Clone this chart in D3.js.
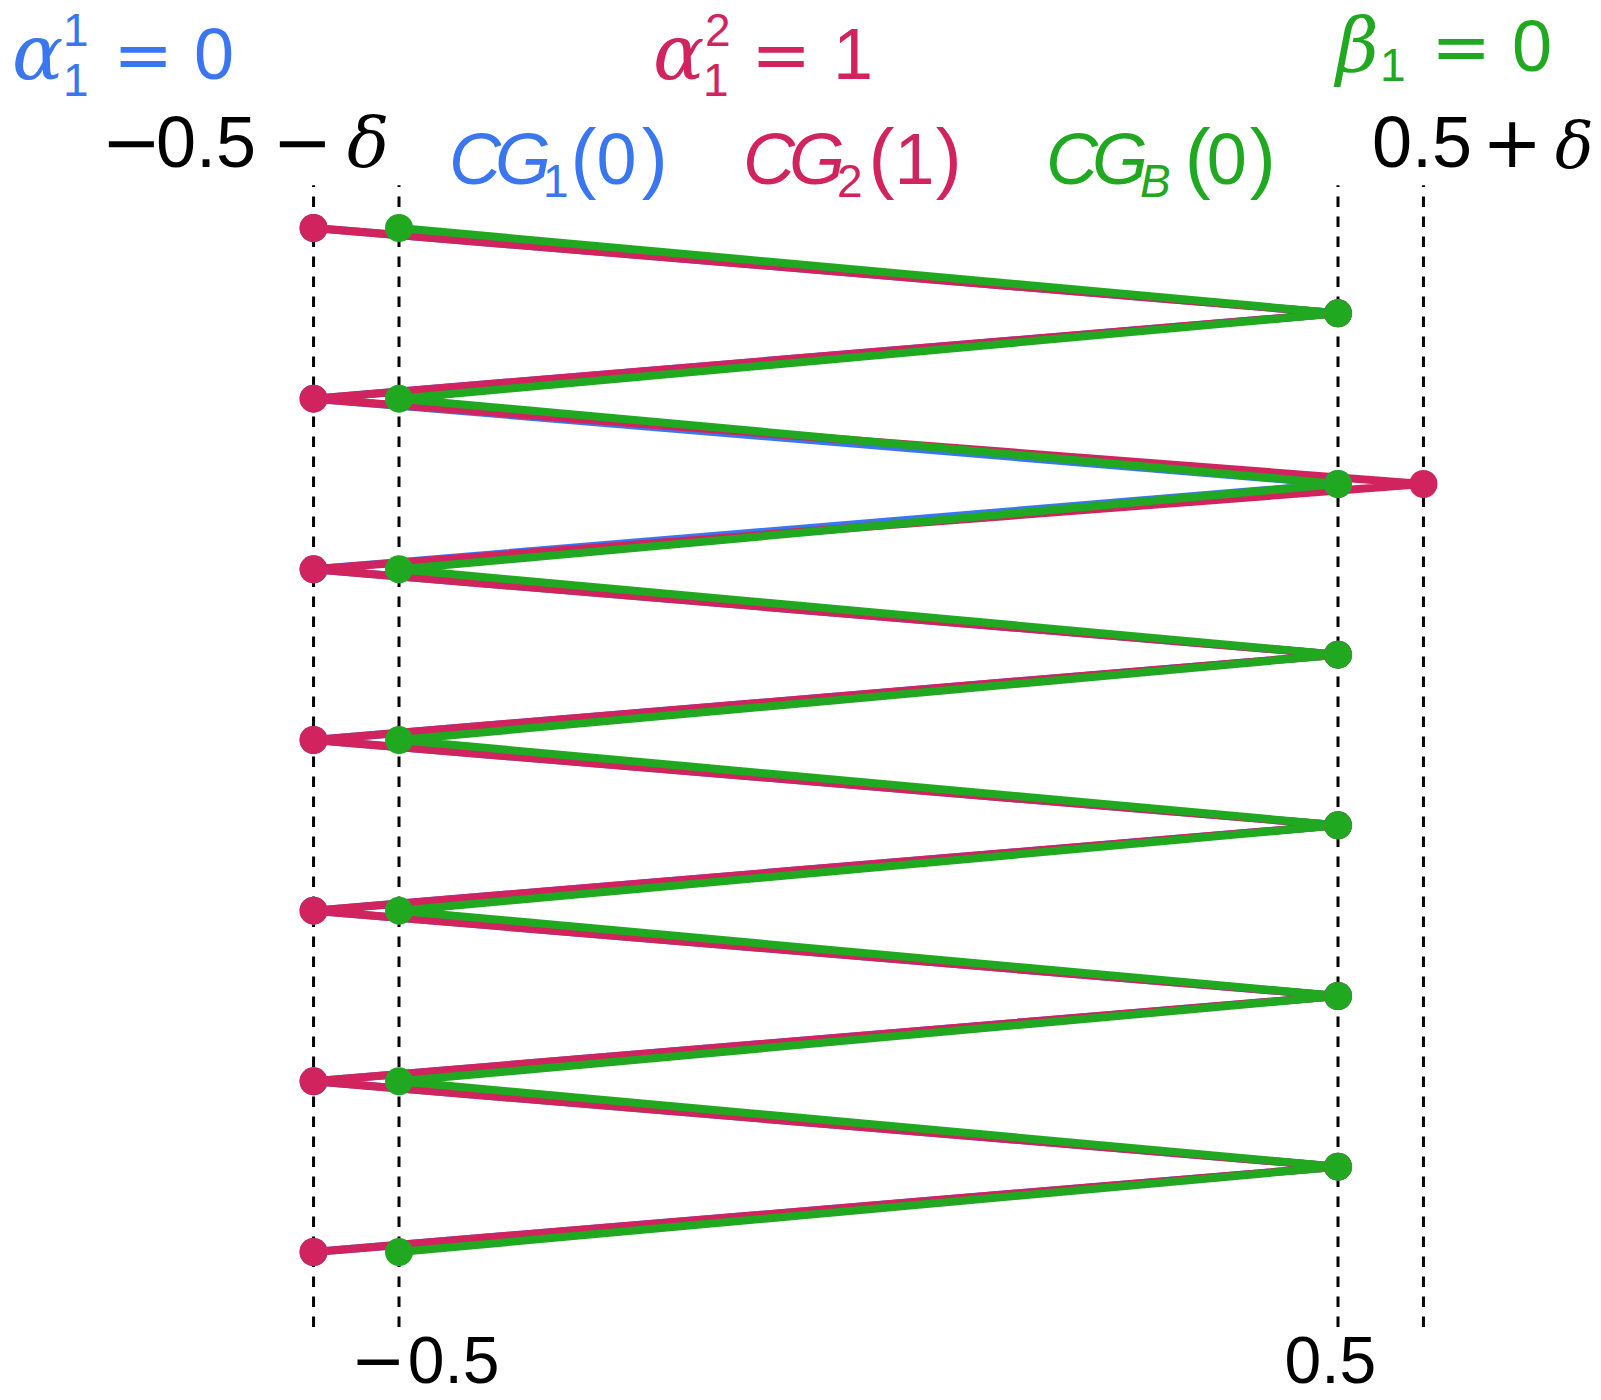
<!DOCTYPE html>
<html>
<head>
<meta charset="utf-8">
<script src="https://cdn.jsdelivr.net/npm/d3@7"></script>
<style>
    html, body { margin: 0; padding: 0; background: #fff; }
    svg { display: block; }
</style>
</head>
<body>
<div id="chart"></div>
<script>
// rows of the zigzag, top to bottom
const steps = [0, 1, 2, 3, 4, 5, 6, 7, 8, 9, 10, 11, 12];
// x position of each series at each row
const cg1X = [-0.591, 0.5, -0.591, 0.5, -0.591, 0.5, -0.591, 0.5, -0.591, 0.5, -0.591, 0.5, -0.591];
const cg2X = [-0.591, 0.5, -0.591, 0.591, -0.591, 0.5, -0.591, 0.5, -0.591, 0.5, -0.591, 0.5, -0.591];
const cgBX = [-0.5, 0.5, -0.5, 0.5, -0.5, 0.5, -0.5, 0.5, -0.5, 0.5, -0.5, 0.5, -0.5];
// dashed guides
const guideX = [-0.591, -0.5, 0.5, 0.591];
const bottomTicks = [-0.5, 0.5];
const bottomTickText = ["−0.5", "0.5"];

const blue = "#3a76f0";
const pink = "#d1235e";
const green = "#21a821";

const width = 1601;
const height = 1400;

const svg = d3.select("#chart")
    .append("svg")
    .attr("width", width)
    .attr("height", height);

const xScale = d3.scaleLinear().domain([-0.5, 0.5]).range([399, 1338]);
const yScale = d3.scaleLinear().domain([0, 12]).range([228, 1252]);

const series = [
    { name: "CG1", xs: cg1X, color: blue },
    { name: "CG2", xs: cg2X, color: pink },
    { name: "CGB", xs: cgBX, color: green }
];

// vertical dashed lines
svg.append("g")
    .selectAll("line")
    .data(guideX)
    .join("line")
    .attr("x1", d => xScale(d))
    .attr("x2", d => xScale(d))
    .attr("y1", yScale(12.88))
    .attr("y2", yScale(-0.5))
    .attr("stroke", "#000")
    .attr("stroke-width", 3)
    .attr("stroke-dasharray", "10.5,9.5");

const line = d3.line()
    .x(d => xScale(d.x))
    .y(d => yScale(d.step));

const toPoints = xs => xs.map((x, i) => ({ x: x, step: steps[i] }));

// lines first, dots on top
series.forEach(s => {
    svg.append("path")
        .datum(toPoints(s.xs))
        .attr("fill", "none")
        .attr("stroke", s.color)
        .attr("stroke-width", 8)
        .attr("stroke-linejoin", "round")
        .attr("d", line);
});

series.forEach(s => {
    svg.append("g")
        .selectAll("circle")
        .data(toPoints(s.xs))
        .join("circle")
        .attr("cx", d => xScale(d.x))
        .attr("cy", d => yScale(d.step))
        .attr("r", 14)
        .attr("fill", s.color);
});

// math-ish labels built from tspans
const fonts = {
    rm: { family: "'Liberation Sans', Arial, sans-serif", style: "normal" },
    it: { family: "'Liberation Sans', Arial, sans-serif", style: "italic" },
    gr: { family: "'DejaVu Serif', serif", style: "italic" },
    op: { family: "'DejaVu Sans', sans-serif", style: "normal" }
};

// pieces placed at fixed spots
function drawLabel(color, pieces) {
    const t = svg.append("text").attr("fill", color);
    pieces.forEach(([txt, x, y, size, kind]) => {
        t.append("tspan")
            .attr("x", x)
            .attr("y", y)
            .attr("font-size", size)
            .attr("font-family", fonts[kind].family)
            .attr("font-style", fonts[kind].style)
            .text(txt);
    });
}

// pieces flowing one after the other: [text, size, kind, dx, baseline, letterSpacing]
function drawFlow(color, x, pieces) {
    const t = svg.append("text").attr("fill", color).attr("x", x);
    pieces.forEach(([txt, size, kind, dx, y, ls]) => {
        const sp = t.append("tspan")
            .attr("y", y)
            .attr("font-size", size)
            .attr("font-family", fonts[kind].family)
            .attr("font-style", fonts[kind].style)
            .text(txt);
        if (dx) sp.attr("dx", dx);
        if (ls) sp.attr("letter-spacing", ls);
    });
}

// α₁¹ = 0
drawLabel(blue, [
    ["α", 12, 79, 76, "gr"],
    ["1", 63, 46, 46, "rm"],
    ["1", 63, 96, 46, "rm"],
    ["=", 113, 79, 72, "op"],
    ["0", 194, 79, 72, "rm"]
]);
// α₁² = 1
drawLabel(pink, [
    ["α", 653, 79, 76, "gr"],
    ["2", 705, 46, 46, "rm"],
    ["1", 703, 96, 46, "rm"],
    ["=", 751, 79, 72, "op"],
    ["1", 833, 79, 72, "rm"]
]);
// β₁ = 0
drawLabel(green, [
    ["β", 1336, 71, 74, "gr"],
    ["1", 1380, 81, 46, "rm"],
    ["=", 1431, 71, 72, "op"],
    ["0", 1512, 71, 72, "rm"]
]);
// −0.5 − δ
drawLabel("#000", [
    ["−", 101, 167, 72, "op"],
    ["0.5", 156, 167, 72, "rm"],
    ["−", 272, 167, 72, "op"],
    ["δ", 347, 167, 70, "gr"]
]);
// 0.5 + δ
drawLabel("#000", [
    ["0.5", 1372, 167, 72, "rm"],
    ["+", 1482, 167, 72, "op"],
    ["δ", 1555, 167, 64, "gr"]
]);
// CG₁(0)
drawFlow(blue, 449, [
    ["C", 72, "it", 0, 184, -6],
    ["G", 72, "it", 0, 184, -8],
    ["1", 46, "rm", 0, 197, 0],
    ["(", 78, "rm", 2, 184, 0],
    ["0", 72, "rm", 0, 184, 0],
    [")", 78, "rm", 5, 184, 0]
]);
// CG₂(1)
drawFlow(pink, 743, [
    ["C", 72, "it", 0, 184, -6],
    ["G", 72, "it", 0, 184, -8],
    ["2", 46, "rm", 0, 197, 0],
    ["(", 78, "rm", 6, 184, 0],
    ["1", 72, "rm", 0, 184, 0],
    [")", 78, "rm", 1, 184, 0]
]);
// CG_B(0)
drawFlow(green, 1046, [
    ["C", 72, "it", 0, 184, -6],
    ["G", 72, "it", 0, 184, -8],
    ["B", 46, "it", 0, 197, 0],
    ["(", 78, "rm", 14, 184, -4],
    ["0", 72, "rm", 0, 184, 0],
    [")", 78, "rm", 3, 184, 0]
]);

// bottom axis: labels only
const tickShift = [-49, -54];
const axis = d3.axisBottom(xScale)
    .tickValues(bottomTicks)
    .tickSize(0)
    .tickFormat((d, i) => bottomTickText[i]);

const ax = svg.append("g")
    .attr("transform", "translate(0,1383)")
    .call(axis);
ax.select(".domain").remove();
ax.selectAll(".tick text").each(function(d, i) {
    const t = d3.select(this);
    const s = bottomTickText[i];
    t.text(null)
        .attr("y", 0)
        .attr("dy", null)
        .attr("x", tickShift[i])
        .attr("text-anchor", "start")
        .attr("fill", "#000")
        .attr("font-size", 66);
    if (s.startsWith("−")) {
        t.append("tspan").attr("font-family", fonts.op.family).text("−");
        t.append("tspan").attr("dx", 2).attr("font-family", fonts.rm.family).text(s.slice(1));
    } else {
        t.append("tspan").attr("font-family", fonts.rm.family).text(s);
    }
});
</script>
</body>
</html>
